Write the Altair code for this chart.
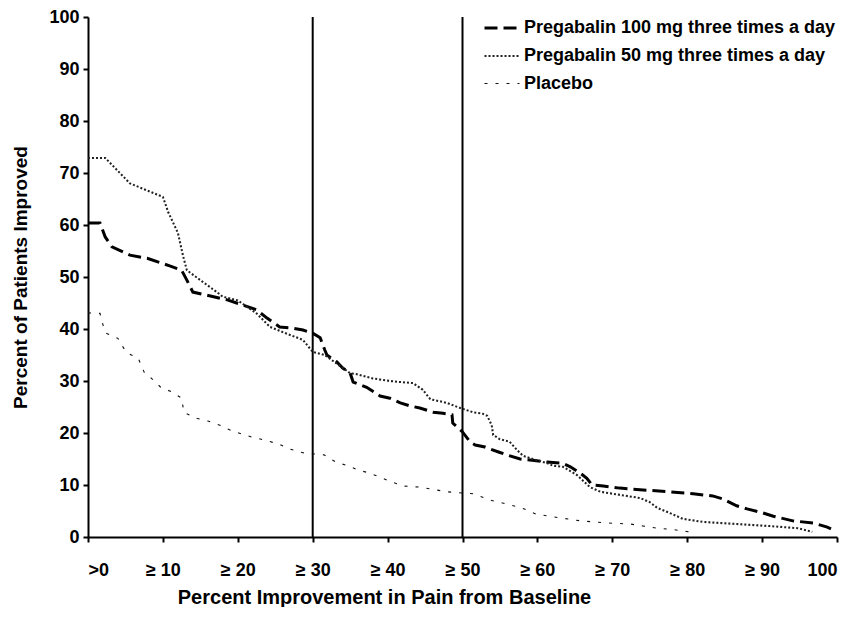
import altair as alt
import pandas as pd

# ---- data ----
p100_x = [0, 1.6, 2.3, 3.2, 5.6, 7.9, 11, 12.5, 13.2, 14, 15.9, 18.6, 22.5, 23.9, 25.6, 27.2, 28.7, 30, 31, 31.6,
          31.9, 33.2, 34, 35, 35.4, 37.2, 39, 40.3, 41.7, 43, 44.3, 46.1, 47.4, 48.6, 48.7, 50, 51, 51.7, 53, 54.9,
          55.9, 57.7, 59, 61.3, 63.3, 64.4, 65.7, 66.6, 67.3, 68.8, 71, 74.6, 77.7, 80.8, 83.4, 84.8, 86.6, 88, 89.7, 91.5,
          94.1, 96.8, 98.7, 99.7]
p100_y = [60.4, 60.4, 57.7, 55.8, 54.2, 53.6, 52.1, 51.3, 49.4, 47.1, 46.5, 45.6, 43.7, 42.1, 40.4, 40.2, 39.8, 39.2, 38.3, 36,
          35, 33.7, 32.5, 31.5, 29.8, 28.8, 27.1, 26.7, 25.8, 25.2, 24.8, 24, 23.8, 23.5, 21.9, 20.2, 18.3, 17.7, 17.3, 16.3,
          15.8, 15, 14.8, 14.4, 14.2, 13.5, 12.3, 11.3, 10, 9.8, 9.4, 9, 8.7, 8.3, 7.9, 7.3, 6, 5.4, 4.8, 4,
          3.1, 2.7, 1.9, 1.2]

p50_x = [0, 2.3, 5.6, 10, 10.7, 12, 12.7, 13.2, 15, 17.2, 18, 20, 22.5, 24.3, 26, 28.7, 30, 31.6, 35, 35.9,
         38, 40.3, 41.7, 43.4, 44.7, 45.7, 47.9, 49.7, 51.4, 52.7, 53.3, 53.9, 54.1, 55, 56.3, 57.3, 58.1, 59.4, 61.3, 62.1,
         63.4, 65.3, 67, 68.4, 71, 73.7, 75, 76, 77.7, 79.4, 82.1, 86.6, 91, 94.7, 96.7]
p50_y = [72.9, 72.9, 68, 65.4, 62.5, 58.5, 54, 51.3, 49.4, 47.1, 46.2, 45.5, 43, 40.4, 39.4, 37.9, 35.6, 35, 31.5, 31.3,
         30.5, 30, 29.8, 29.6, 28.3, 26.5, 25.8, 24.8, 24, 23.7, 23.3, 21.5, 19.6, 18.8, 18.3, 16.7, 15.6, 15, 14.2, 13.7,
         13.5, 11.9, 9.6, 8.7, 8.1, 7.5, 6.7, 5.6, 4.6, 3.5, 2.9, 2.5, 2.1, 1.7, 1]

plc_x = [0, 1.6, 2, 2.4, 4, 4.5, 5.2, 6.7, 7.5, 8.4, 9.7, 11.2, 12.5, 12.8, 14.3, 16, 17.6, 19.2, 21, 21.9,
         23.4, 25.4, 27, 28.7, 31.5, 33.1, 34.7, 36, 37.6, 40.5, 42.1, 44.2, 47.9, 51.5, 53.7, 56, 57.9, 59.8, 62.9, 65.8,
         69.3, 72.4, 74.1, 76, 77.7, 79.3, 81]
plc_y = [43.1, 43, 40.8, 39.2, 38.2, 36.9, 35.4, 34.4, 31.7, 30.6, 28.8, 27.9, 26.7, 24, 22.9, 22.3, 21.5, 20.4, 19.6, 19.2,
         18.7, 17.9, 16.9, 16.2, 15.8, 14.4, 13.7, 12.9, 12.3, 10.6, 9.8, 9.6, 8.7, 8.3, 7.1, 6.3, 5.6, 4.4, 3.7, 3.1,
         2.7, 2.5, 2.1, 1.7, 1.5, 1.2, 0.8]

series_names = ["Pregabalin 100 mg three times a day",
                "Pregabalin 50 mg three times a day",
                "Placebo"]

ref_lines = [30, 50]
x_tick_values = [0, 10, 20, 30, 40, 50, 60, 70, 80, 90, 100]
x_tick_labels = [">0", "≥ 10", "≥ 20", "≥ 30", "≥ 40", "≥ 50", "≥ 60", "≥ 70", "≥ 80", "≥ 90", "100"]
y_tick_values = [0, 10, 20, 30, 40, 50, 60, 70, 80, 90, 100]

# ---- build table ----
rows = []
for name, xs, ys in zip(series_names, [p100_x, p50_x, plc_x], [p100_y, p50_y, plc_y]):
    for i, (xv, yv) in enumerate(zip(xs, ys)):
        rows.append({"series": name, "x": xv, "y": yv, "order": i})
df = pd.DataFrame(rows)
rules_df = pd.DataFrame({"x": ref_lines})

label_expr = " : ".join(
    f"datum.value == {v} ? '{l}'" for v, l in zip(x_tick_values, x_tick_labels)
) + " : ''"

FONT = "Liberation Sans"

legend = alt.Legend(
    title=None, orient="none", legendX=395, legendY=-8,
    symbolType="stroke", symbolSize=1225, labelFontSize=18, labelFont=FONT,
    labelFontWeight="bold", labelColor="black", labelLimit=500, labelOffset=3,
    rowPadding=-5, symbolStrokeColor="black",
)

xscale = alt.Scale(domain=[0, 100], nice=False)
yscale = alt.Scale(domain=[0, 100], nice=False)

lines = alt.Chart(df).mark_line(interpolate="linear").encode(
    x=alt.X("x:Q", scale=xscale,
            axis=alt.Axis(values=x_tick_values, labelExpr=label_expr,
                          title="Percent Improvement in Pain from Baseline",
                          titleX=296, titleAlign="center")),
    y=alt.Y("y:Q", scale=yscale,
            axis=alt.Axis(values=y_tick_values, title="Percent of Patients Improved")),
    color=alt.Color("series:N", scale=alt.Scale(domain=series_names, range=["#000000", "#222222", "#111111"]),
                    legend=legend),
    strokeDash=alt.StrokeDash("series:N", scale=alt.Scale(domain=series_names,
                                                          range=[[13, 6], [2, 2], [3, 8]]),
                              legend=legend),
    strokeWidth=alt.StrokeWidth("series:N", scale=alt.Scale(domain=series_names, range=[3, 1.1, 1.8]),
                                legend=legend),
    order="order:Q",
)

rules = alt.Chart(rules_df).mark_rule(color="black", strokeWidth=2).encode(
    x=alt.X("x:Q", scale=xscale)
)

chart = alt.layer(rules, lines).properties(
    width=749, height=520,
    autosize=alt.AutoSizeParams(type="none"),
    padding={"left": 80, "top": 9, "right": 11, "bottom": 70},
).configure_view(stroke=None).configure_axis(
    domainColor="black", domainWidth=2, tickColor="black", tickWidth=2, tickSize=5,
    grid=False, labelFont=FONT, labelFontWeight="bold", labelFontSize=18, labelColor="black",
    titleFont=FONT, titleFontWeight="bold", titleFontSize=19, titleColor="black",
).configure_axisX(labelPadding=19, titlePadding=8, titleFontSize=20).configure_axisY(labelPadding=4, titlePadding=18)

chart.save("out.html", embed_options={"renderer": "svg", "actions": False})
